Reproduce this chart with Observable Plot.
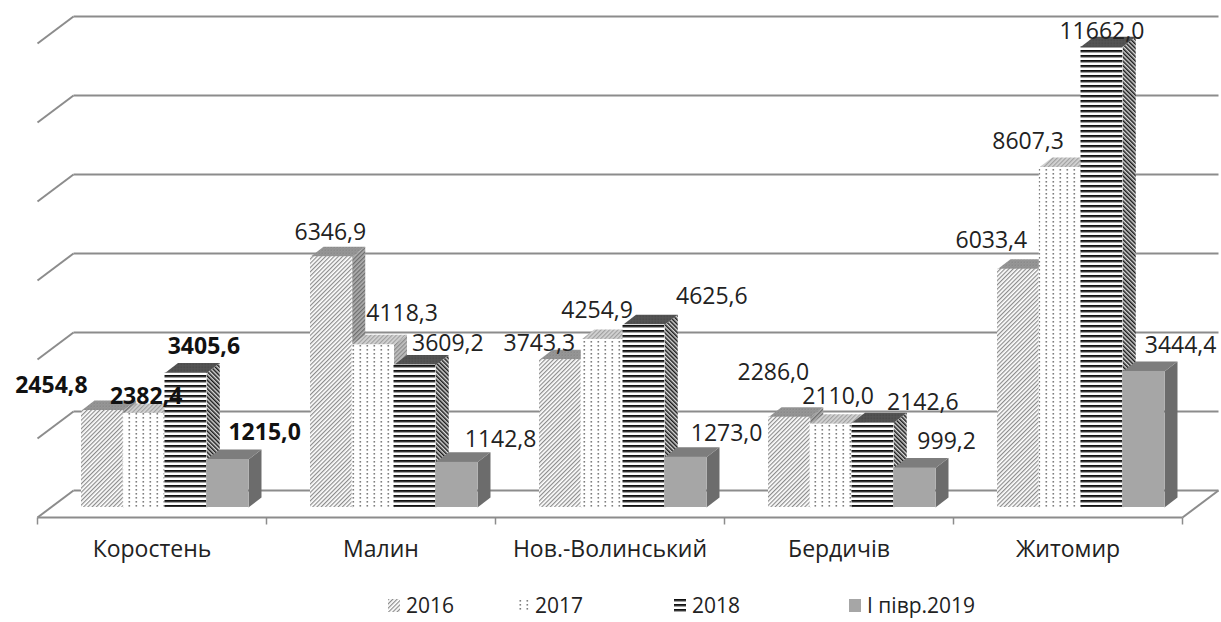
<!DOCTYPE html>
<html>
<head>
<meta charset="utf-8">
<script src="https://cdn.jsdelivr.net/npm/d3@7"></script>
<script src="https://cdn.jsdelivr.net/npm/@observablehq/plot@0.6"></script>
<style>
  body { margin: 0; background: #fff; font-family: "Open Sans", sans-serif; }
  #chart svg { display: block; }
  #legend { position: relative; width: 1221px; height: 37px; font-size: 21px; color: #222; }
  #legend .item { position: absolute; top: 6px; display: flex; align-items: center; gap: 6px; line-height: 28px; }
</style>
</head>
<body>
<svg width="0" height="0" style="position:absolute">
  <defs>
    <pattern id="p16f" patternUnits="userSpaceOnUse" width="3" height="3" patternTransform="rotate(45)">
      <rect width="3" height="3" fill="#fff"/><rect width="1.2" height="3" fill="#8c8c8c"/>
    </pattern>
    <pattern id="p16t" patternUnits="userSpaceOnUse" width="3" height="3">
      <rect width="3" height="3" fill="#a3a3a3"/><rect width="1.5" height="1.5" fill="#7a7a7a"/><rect x="1.5" y="1.5" width="1.5" height="1.5" fill="#8a8a8a"/>
    </pattern>
    <pattern id="p16s" patternUnits="userSpaceOnUse" width="3" height="3" patternTransform="rotate(45)">
      <rect width="3" height="3" fill="#b0b0b0"/><rect width="1.3" height="3" fill="#6e6e6e"/>
    </pattern>
    <pattern id="p17f" patternUnits="userSpaceOnUse" width="7" height="4">
      <rect width="7" height="4" fill="#fff"/><rect x="2.5" y="1" width="1.6" height="1.6" fill="#7e7e7e"/>
    </pattern>
    <pattern id="p17t" patternUnits="userSpaceOnUse" width="3" height="3" patternTransform="rotate(45)">
      <rect width="3" height="3" fill="#d4d4d4"/><rect width="1.2" height="3" fill="#a0a0a0"/>
    </pattern>
    <pattern id="p17s" patternUnits="userSpaceOnUse" width="3" height="3" patternTransform="rotate(45)">
      <rect width="3" height="3" fill="#c0c0c0"/><rect width="1.2" height="3" fill="#8a8a8a"/>
    </pattern>
    <pattern id="p18f" patternUnits="userSpaceOnUse" width="5" height="5">
      <rect width="5" height="5" fill="#fff"/><rect width="5" height="1.9" fill="#111"/><rect y="1.9" width="5" height="1" fill="#9a9a9a"/>
    </pattern>
    <pattern id="p18t" patternUnits="userSpaceOnUse" width="3" height="3">
      <rect width="3" height="3" fill="#555"/><rect width="1.5" height="1.5" fill="#444"/>
    </pattern>
    <pattern id="p18s" patternUnits="userSpaceOnUse" width="3" height="3" patternTransform="rotate(-45)">
      <rect width="3" height="3" fill="#d8d8d8"/><rect width="1.5" height="3" fill="#1a1a1a"/>
    </pattern>
  </defs>
</svg>
<div id="chart"></div>
<div id="legend"></div>
<script>
// ---------- data ----------
const cities = ["Коростень", "Малин", "Нов.-Волинський", "Бердичів", "Житомир"];
const years = ["2016", "2017", "2018", "І півр.2019"];
const v2016 = [2454.8, 6346.9, 3743.3, 2286.0, 6033.4];
const v2017 = [2382.4, 4118.3, 4254.9, 2110.0, 8607.3];
const v2018 = [3405.6, 3609.2, 4625.6, 2142.6, 11662.0];
const vH2019 = [1215.0, 1142.8, 1273.0, 999.2, 3444.4];
const yTicks = [0, 2000, 4000, 6000, 8000, 10000, 12000];

// ---------- layout / style ----------
const W = 1221, H = 585, mL = 50, mR = 26, mT = 33, mB = 78;
const xDomain = [-0.5, 4.5], yDomain = [0, 12000];
const ux = (xDomain[1] - xDomain[0]) / (W - mL - mR);
const uy = (yDomain[1] - yDomain[0]) / (H - mT - mB);
const BAR = 0.1823;                 // bar width, category units
const DEPTH = [13, -10];            // bar depth offset, px
const FRONT = [-13, 10];            // floor front relative to bar front, px
const WALL = [23, -17];             // back wall relative to bar front, px
const GRID = "#8c8c8c";
const FONT = "Open Sans";
const faces = [
  {front: "url(#p16f)", top: "url(#p16t)", side: "url(#p16s)"},
  {front: "url(#p17f)", top: "url(#p17t)", side: "url(#p17s)"},
  {front: "url(#p18f)", top: "url(#p18t)", side: "url(#p18s)"},
  {front: "#a6a6a6", top: "#7d7d7d", side: "#6c6c6c"}
];
// label nudges (px) from the top-front centre of each bar, per series per city
const labelNudge = [
  [[-51, -25], [-1, -24], [-21, -16], [-16, -45], [-27, -29]],
  [[2, -17], [29, -31], [-5, -29], [7, -28], [-32, -26]],
  [[18, -26], [33, -21], [68, -28], [50, -20], [0, -15]],
  [[37, -27], [44, -23], [41, -24], [32, -26], [37, -26]]
];

const px = (x, d) => x + d * ux;      // shift by d screen px right
const py = (y, d) => y - d * uy;      // shift by d screen px down
const fmt = v => v.toFixed(1).replace(".", ",");

const series = [v2016, v2017, v2018, vH2019];
const bars = cities.flatMap((c, i) => series.map((vals, j) => ({
  city: c, i, j, value: vals[i],
  x1: i + (j - 2) * BAR, x2: i + (j - 1) * BAR
})));

const topPts = bars.flatMap((b, k) => [
  [b.x1, b.value], [b.x2, b.value],
  [px(b.x2, DEPTH[0]), py(b.value, DEPTH[1])], [px(b.x1, DEPTH[0]), py(b.value, DEPTH[1])]
].map(([x, y]) => ({k, j: b.j, x, y})));
const sidePts = bars.flatMap((b, k) => [
  [b.x2, 0], [b.x2, b.value],
  [px(b.x2, DEPTH[0]), py(b.value, DEPTH[1])], [px(b.x2, DEPTH[0]), py(0, DEPTH[1])]
].map(([x, y]) => ({k, j: b.j, x, y})));

const labels = bars.map(b => {
  const [nx, ny] = labelNudge[b.j][b.i];
  return {...b, lx: px((b.x1 + b.x2) / 2, nx), ly: py(b.value, ny), text: fmt(b.value)};
});

const xL = xDomain[0], xR = xDomain[1];
const marks = [
  // back wall gridlines
  Plot.link(yTicks, {x1: px(xL, WALL[0]), x2: px(xR, WALL[0]), y1: t => py(t, WALL[1]), y2: t => py(t, WALL[1]), stroke: GRID, strokeWidth: 2}),
  // left wall diagonals
  Plot.link(yTicks, {x1: px(xL, FRONT[0]), y1: t => py(t, FRONT[1]), x2: px(xL, WALL[0]), y2: t => py(t, WALL[1]), stroke: GRID, strokeWidth: 2}),
  // floor front edge and right edge
  Plot.link([0], {x1: px(xL, FRONT[0]), y1: py(0, FRONT[1]), x2: px(xR, FRONT[0]), y2: py(0, FRONT[1]), stroke: GRID, strokeWidth: 2}),
  Plot.link([0], {x1: px(xR, FRONT[0]), y1: py(0, FRONT[1]), x2: px(xR, WALL[0]), y2: py(0, WALL[1]), stroke: GRID, strokeWidth: 2}),
  // category ticks
  Plot.link(d3.range(cities.length + 1), {x1: k => px(k - 0.5, FRONT[0]), x2: k => px(k - 0.5, FRONT[0]), y1: py(0, FRONT[1]), y2: py(0, FRONT[1] + 7), stroke: GRID, strokeWidth: 1.5}),
  // category labels
  Plot.text(cities, {x: (d, i) => px(i, FRONT[0]), y: py(0, FRONT[1] + 32), text: d => d, fontSize: 23, fontFamily: FONT, fill: "#222"})
];
// bars: sides, tops, fronts
series.forEach((_, j) => marks.push(Plot.line(sidePts.filter(p => p.j === j), {x: "x", y: "y", z: "k", fill: faces[j].side, stroke: "none", curve: "linear-closed"})));
series.forEach((_, j) => marks.push(Plot.line(topPts.filter(p => p.j === j), {x: "x", y: "y", z: "k", fill: faces[j].top, stroke: "none", curve: "linear-closed"})));
series.forEach((_, j) => marks.push(Plot.rect(bars.filter(b => b.j === j), {x1: "x1", x2: "x2", y1: 0, y2: "value", fill: faces[j].front})));
// data labels
marks.push(Plot.text(labels.filter(d => d.i === 0), {x: "lx", y: "ly", text: "text", fontSize: 23, fontWeight: "bold", fontFamily: FONT, fill: "#111"}));
marks.push(Plot.text(labels.filter(d => d.i !== 0), {x: "lx", y: "ly", text: "text", fontSize: 23, fontFamily: FONT, fill: "#222"}));

const chart = Plot.plot({
  width: W, height: H,
  marginLeft: mL, marginRight: mR, marginTop: mT, marginBottom: mB,
  x: {domain: xDomain, axis: null},
  y: {domain: yDomain, axis: null},
  style: {background: "#fff", overflow: "visible"},
  marks
});
document.getElementById("chart").append(chart);

// legend
const legendPos = [388, 517, 674, 849];
const legend = d3.select("#legend");
years.forEach((yr, j) => {
  const it = legend.append("div").attr("class", "item").style("left", legendPos[j] + "px");
  it.append("svg").attr("width", 12).attr("height", 13)
    .append("rect").attr("width", 12).attr("height", 13).attr("fill", faces[j].front);
  it.append("span").text(yr);
});
</script>
</body>
</html>
